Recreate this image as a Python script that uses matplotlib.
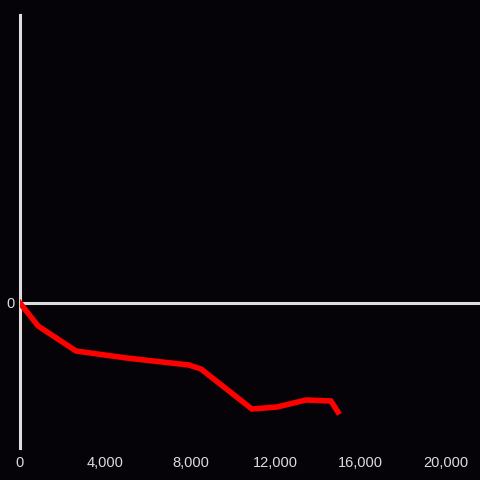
import matplotlib
matplotlib.use("Agg")
import matplotlib.pyplot as plt
from matplotlib.ticker import FuncFormatter

# values
x_vals = [0, 850, 2630, 5000, 7930, 8500, 10890, 12070, 13430, 14600, 14930]
y_vals = [0, -23, -48, -55, -62, -66, -106, -104, -97, -98, -109]
x_ticks = [0, 4000, 8000, 12000, 16000, 20000]

bg = "#050307"
fg = "#dddddd"

plt.rcParams["font.family"] = ["Liberation Sans", "DejaVu Sans"]

fig = plt.figure(figsize=(4.8, 4.8), dpi=100, facecolor=bg)
ax = fig.add_axes([20 / 480, 32 / 480, 460 / 480, 433 / 480])
ax.set_facecolor(bg)

ax.plot(x_vals, y_vals, color="#ff0000", lw=4, solid_joinstyle="miter", zorder=3)
ax.axhline(0, color=fg, lw=2.2, zorder=2)

ax.set_xlim(0, 21600)
ax.set_ylim(-145, 288)

for s in ["top", "right", "bottom"]:
    ax.spines[s].set_visible(False)
ax.spines["left"].set_color(fg)
ax.spines["left"].set_linewidth(2.2)

ax.set_xticks(x_ticks)
ax.xaxis.set_major_formatter(FuncFormatter(lambda v, p: f"{int(v):,}"))
ax.set_yticks([0])
ax.tick_params(length=0, colors=fg, labelsize=10.5)
ax.tick_params(axis="x", pad=6)
ax.tick_params(axis="y", pad=4)

fig.savefig("out.png", dpi=100, facecolor=bg)
